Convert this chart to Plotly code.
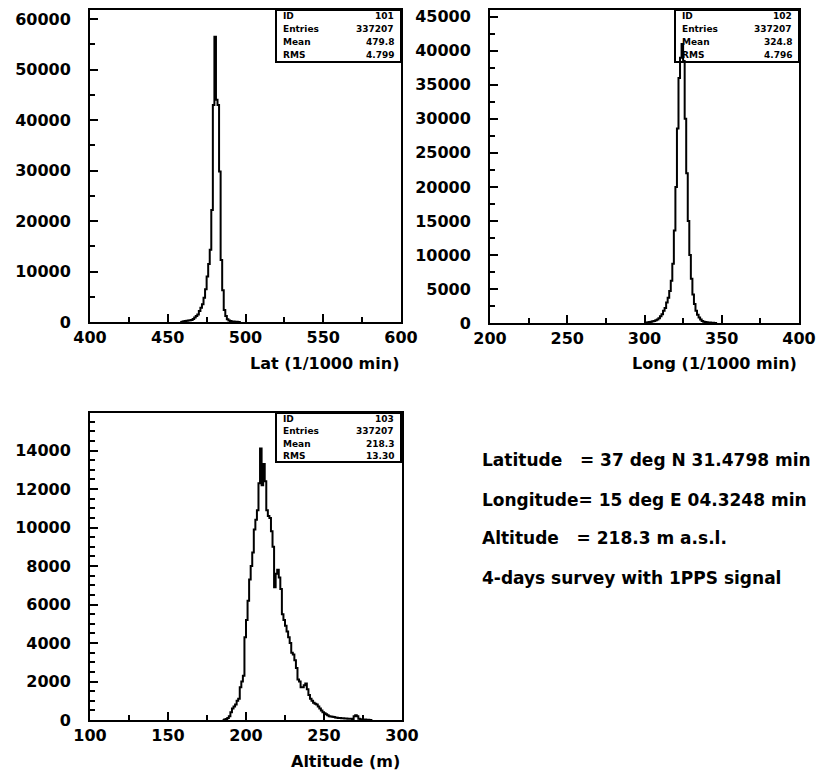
import plotly.graph_objects as go

W, H = 822, 778

# ---------------- data (bin width 1, left edges) ----------------
lat_start = 458
lat_counts = [0, 50, 150, 200, 250, 300, 350, 400, 600, 900,
              1200, 1500, 2200, 2800, 3500, 4800, 6500, 9000, 11500, 14300,
              22200, 43000, 56500, 44000, 43000, 29800, 12300, 6300, 2400, 1200,
              550, 300, 200, 100, 80, 50, 30, 10, 0]

long_start = 300
long_counts = [30, 60, 100, 150, 200, 250, 300, 400, 500, 700,
               1000, 1300, 1800, 2200, 3000, 3700, 4700, 6200, 8700, 13600,
               20000, 28600, 36000, 39000, 41000, 38500, 30000, 22000, 15000, 10000,
               6500, 4200, 2800, 1800, 1200, 800, 500, 300, 200, 150,
               100, 80, 60, 40, 20, 10, 0]

alt_start = 185
alt_counts = [0, 20, 50, 100, 200, 400, 600, 700, 800, 1000,
              1100, 1700, 2000, 2300, 4300, 5200, 6200, 7300, 8000, 8700,
              9900, 10400, 10900, 12300, 14100, 12200, 13300, 12400, 10900, 10600,
              10500, 9800, 9000, 6900, 7600, 7800, 7400, 6800, 5500, 5200,
              4900, 4600, 4300, 4000, 3500, 3400, 3100, 2700, 2100, 2000,
              1700, 1700, 1800, 1900, 1600, 1300, 1100, 1000, 900, 850,
              800, 700, 600, 500, 400, 350, 300, 250, 200, 180,
              170, 150, 130, 120, 110, 100, 90, 90, 80, 80,
              70, 60, 60, 50, 200, 250, 200, 60, 40, 30,
              20, 20, 10, 10, 5, 0]

stats = {
    "lat": [("ID", "101"), ("Entries", "337207"), ("Mean", "479.8"), ("RMS", "4.799")],
    "long": [("ID", "102"), ("Entries", "337207"), ("Mean", "324.8"), ("RMS", "4.796")],
    "alt": [("ID", "103"), ("Entries", "337207"), ("Mean", "218.3"), ("RMS", "13.30")],
}

info_lines = [
    "Latitude   = 37 deg N 31.4798 min",
    "Longitude= 15 deg E 04.3248 min",
    "Altitude   = 218.3 m a.s.l.",
    "4-days survey with 1PPS signal",
]

FONT = "DejaVu Sans"


def px(x):
    return x / W


def py(y):
    return 1 - y / H


def steps(start, counts):
    xs = [start + i for i in range(len(counts))] + [start + len(counts)]
    ys = list(counts) + [counts[-1]]
    return xs, ys


fig = go.Figure()

panels = [
    ("x", "y", lat_start, lat_counts),
    ("x2", "y2", long_start, long_counts),
    ("x3", "y3", alt_start, alt_counts),
]
for xa, ya, s, c in panels:
    xs, ys = steps(s, c)
    fig.add_trace(go.Scatter(x=xs, y=ys, xaxis=xa, yaxis=ya, mode="lines",
                             line=dict(shape="hv", color="black", width=2),
                             hoverinfo="skip", showlegend=False))

axis_common = dict(showline=True, mirror=True, linecolor="black", linewidth=2,
                   ticks="inside", ticklen=8, tickwidth=2, tickcolor="black",
                   showgrid=False, zeroline=False, automargin=False,
                   tickfont=dict(family=FONT, size=16, color="black", weight="bold"))

minor = dict(ticks="inside", ticklen=5, tickwidth=2, tickcolor="black")

# domains (pixels -> paper)
d1x = [px(90), px(401)]
d1y = [py(322), py(10)]
d2x = [px(490), px(799)]
d2y = [py(323), py(10)]
d3x = [px(90), px(402)]
d3y = [py(720), py(413)]

fig.update_layout(
    width=W, height=H, margin=dict(l=0, r=0, t=0, b=0, autoexpand=False),
    paper_bgcolor="white", plot_bgcolor="white",
    showlegend=False,
    xaxis=dict(domain=d1x, anchor="y", range=[400, 600], tickvals=[400, 450, 500, 550, 600],
               minor=dict(dtick=25, tick0=400, **minor), **axis_common),
    yaxis=dict(domain=d1y, anchor="x", range=[0, 61800], dtick=10000,
               tickformat="d", ticklabelstandoff=14,
               minor=dict(dtick=5000, **minor), **axis_common),
    xaxis2=dict(domain=d2x, anchor="y2", range=[200, 400], tickvals=[200, 250, 300, 350, 400],
                minor=dict(dtick=25, tick0=200, **minor), **axis_common),
    yaxis2=dict(domain=d2y, anchor="x2", range=[0, 46000], dtick=5000,
                tickformat="d", ticklabelstandoff=14,
                minor=dict(dtick=2500, **minor), **axis_common),
    xaxis3=dict(domain=d3x, anchor="y3", range=[100, 300], tickvals=[100, 150, 200, 250, 300],
                minor=dict(dtick=25, tick0=100, **minor), **axis_common),
    yaxis3=dict(domain=d3y, anchor="x3", range=[0, 15950], dtick=2000,
                tickformat="d", ticklabelstandoff=14,
                minor=dict(dtick=500, **minor), **axis_common),
)

annotations = []
shapes = []

# axis titles (right-aligned at axis end, PAW style)
for text, xr, y in [("Lat (1/1000 min)", 401, 363), ("Long (1/1000 min)", 799, 363),
                    ("Altitude (m)", 402, 761)]:
    annotations.append(dict(text=text, x=px(xr), y=py(y), xref="paper", yref="paper",
                            xanchor="right", yanchor="middle", showarrow=False,
                            font=dict(family=FONT, size=16, color="black", weight="bold")))

# stats boxes
boxes = [("lat", 276, 401, 10, 62), ("long", 675, 799, 10, 62), ("alt", 276, 401, 413, 462)]
for key, x0, x1, y0, y1 in boxes:
    shapes.append(dict(type="rect", xref="paper", yref="paper",
                       x0=px(x0), x1=px(x1), y0=py(y1), y1=py(y0),
                       line=dict(color="black", width=2), fillcolor="rgba(0,0,0,0)"))
    n = len(stats[key])
    rowh = (y1 - y0) / n
    for i, (lab, val) in enumerate(stats[key]):
        yc = y0 + rowh * (i + 0.5)
        annotations.append(dict(text="<b>%s</b>" % lab, x=px(x0 + 5), y=py(yc), xref="paper", yref="paper",
                                xanchor="left", yanchor="middle", showarrow=False,
                                font=dict(family=FONT, size=9, color="black")))
        annotations.append(dict(text="<b>%s</b>" % val, x=px(x1 - 5), y=py(yc), xref="paper", yref="paper",
                                xanchor="right", yanchor="middle", showarrow=False,
                                font=dict(family=FONT, size=9, color="black")))

# info text
for line, y in zip(info_lines, [460, 500, 538, 578]):
    annotations.append(dict(text=line, x=px(480), y=py(y), xref="paper", yref="paper",
                            xanchor="left", yanchor="middle", showarrow=False,
                            font=dict(family=FONT, size=17, color="black", weight="bold")))

fig.update_layout(annotations=annotations, shapes=shapes)

fig.write_html("out.html", config={"displayModeBar": False},
               post_script="document.body.style.margin='0px';document.body.style.overflow='hidden';")
